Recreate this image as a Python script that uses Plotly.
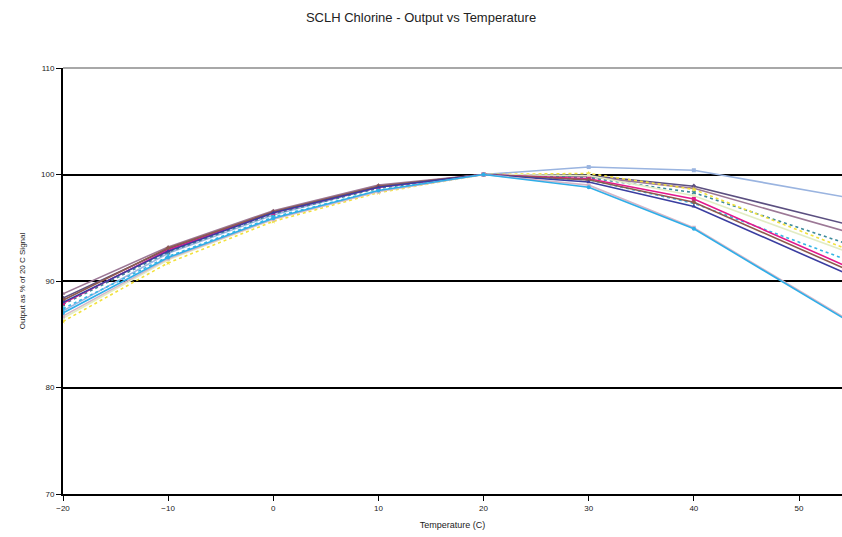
import plotly.graph_objects as go

temps = [-20, -10, 0, 10, 20, 30, 40, 60]

series_names = ["S1", "S2", "S3", "S4", "S5", "S6", "S7", "S8", "S9", "S10", "S11", "S12"]
s1 = [87.2, 92.6, 96.2, 98.8, 100, 100.7, 100.4, 96.9]
s2 = [88.4, 93.0, 96.5, 98.9, 100, 99.9, 98.9, 94.0]
s3 = [88.8, 93.2, 96.6, 99.0, 100, 99.8, 98.7, 93.1]
s4 = [87.8, 92.7, 96.3, 98.7, 100, 99.7, 98.3, 91.7]
s5 = [86.2, 91.7, 95.6, 98.3, 100, 100.1, 98.6, 90.9]
s6 = [86.5, 92.0, 95.8, 98.4, 100, 99.9, 98.0, 90.8]
s7 = [87.4, 92.3, 96.0, 98.5, 100, 99.5, 97.3, 90.0]
s8 = [87.9, 92.9, 96.4, 98.8, 100, 99.6, 97.7, 89.0]
s9 = [88.2, 93.1, 96.5, 98.9, 100, 99.5, 97.4, 88.7]
s10 = [88.0, 92.8, 96.4, 98.8, 100, 99.3, 97.0, 88.3]
s11 = [86.7, 92.1, 95.8, 98.4, 100, 99.0, 95.0, 83.2]
s12 = [87.0, 92.2, 95.9, 98.5, 100, 98.8, 94.9, 83.1]
all_series = [s1, s2, s3, s4, s5, s6, s7, s8, s9, s10, s11, s12]

colors = ["#9AB4E0", "#5B4F80", "#9C7896", "#3C8A9A", "#F2E13C", "#E2ECC4",
          "#34B6E6", "#E3188C", "#8E5A4E", "#3A3DA0", "#D4B6C8", "#2FAEE8"]
dashes = ["solid", "solid", "solid", "dot", "dot", "solid",
          "dot", "solid", "solid", "solid", "solid", "solid"]
symbols = ["square", "diamond", "triangle-up", "x", "star", "circle",
           "cross", "square", "diamond", "triangle-up", "square", "circle"]

fig = go.Figure()
for name, vals, c, d, sym in zip(series_names, all_series, colors, dashes, symbols):
    fig.add_trace(go.Scatter(
        x=temps, y=vals, mode="lines+markers", name=name,
        line=dict(color=c, width=1.6, dash=d),
        marker=dict(color=c, size=4, symbol=sym),
        showlegend=False,
    ))

font = "Liberation Sans, Arial, sans-serif"
fig.update_layout(
    width=842, height=537,
    margin=dict(l=63, r=0, t=68, b=43),
    paper_bgcolor="white", plot_bgcolor="white",
    title=dict(text="SCLH Chlorine - Output vs Temperature", x=0.5, xanchor="center",
               y=0.968, yanchor="middle", font=dict(family=font, size=13, color="#222")),
    xaxis=dict(range=[-20, 54.09], tickmode="linear", tick0=-20, dtick=10,
               showgrid=False, zeroline=False, showline=True, linecolor="black", linewidth=2,
               ticks="outside", ticklen=5, tickcolor="black", tickwidth=1,
               tickfont=dict(family=font, size=8, color="#222"),
               title=dict(text="Temperature (C)", font=dict(family=font, size=9, color="#222"), standoff=10)),
    yaxis=dict(range=[70, 110], tickmode="linear", tick0=70, dtick=10,
               showgrid=True, gridcolor="black", gridwidth=1.5, zeroline=False,
               showline=True, linecolor="black", linewidth=2,
               ticks="outside", ticklen=5, tickcolor="black", tickwidth=1,
               tickfont=dict(family=font, size=8, color="#222"),
               title=dict(text="Output as % of 20 C Signal", font=dict(family=font, size=8, color="#222"), standoff=14)),
    shapes=[dict(type="line", xref="paper", yref="paper", x0=0, x1=1, y0=1, y1=1,
                 line=dict(color="#A8A8A8", width=2), layer="above")],
)

fig.write_html("out.html")
